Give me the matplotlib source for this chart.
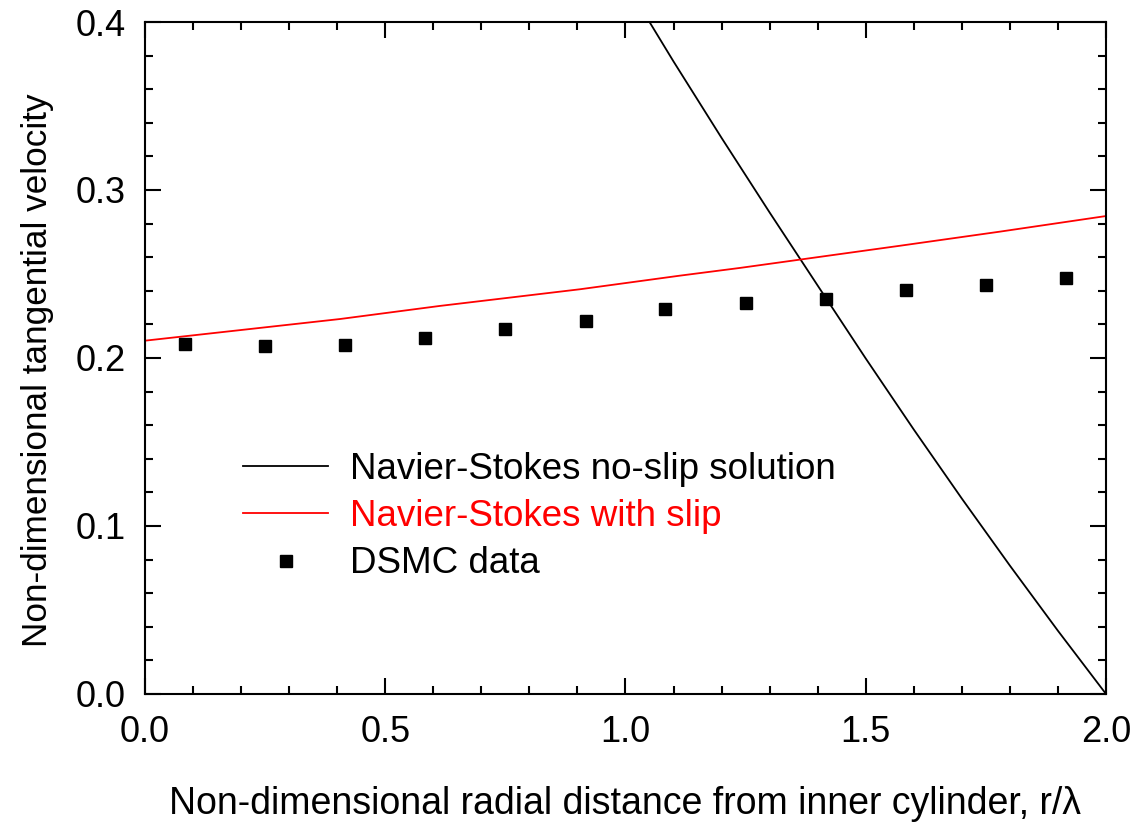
"""Tangential velocity profile: Navier-Stokes vs DSMC."""

import numpy as np
import matplotlib
matplotlib.use('Agg')
import matplotlib.pyplot as plt
from matplotlib.ticker import MultipleLocator, FormatStrFormatter

plt.rcParams['font.family'] = ['Liberation Sans', 'DejaVu Sans']

# DSMC data
dsmc_r = [0.083, 0.25, 0.417, 0.583, 0.75, 0.917, 1.083, 1.25, 1.417, 1.583, 1.75, 1.917]
dsmc_v = [0.2083, 0.2071, 0.2080, 0.2118, 0.2173, 0.2220, 0.2290, 0.2327, 0.2350, 0.2405, 0.2435, 0.2476]

# Navier-Stokes no-slip solution
noslip_r = [1.05, 1.1, 1.2, 1.3, 1.4, 1.5, 1.6, 1.7, 1.8, 1.9, 2.0]
noslip_v = [0.400, 0.3765, 0.3310, 0.2866, 0.2431, 0.1997, 0.1574, 0.1163, 0.0764, 0.0376, 0.0]

# Navier-Stokes with slip
slip_r = [0.0, 0.406, 0.614, 0.905, 1.113, 1.238, 1.571, 1.779, 2.0]
slip_v = [0.2103, 0.2232, 0.2310, 0.2409, 0.2490, 0.2536, 0.2668, 0.2752, 0.2845]

fig = plt.figure(figsize=(11.36, 8.24), dpi=100)
ax = fig.add_axes([0.1276, 0.1578, 0.8460, 0.8155])

ax.plot(noslip_r, noslip_v, color='black', lw=1.3, label='Navier-Stokes no-slip solution')
ax.plot(slip_r, slip_v, color='red', lw=1.3, label='Navier-Stokes with slip')
ax.plot(dsmc_r, dsmc_v, 's', color='black', ms=8.5, label='DSMC data')

ax.set_xlim(0, 2.0)
ax.set_ylim(0, 0.4)
ax.xaxis.set_major_locator(MultipleLocator(0.5))
ax.xaxis.set_minor_locator(MultipleLocator(0.1))
ax.yaxis.set_major_locator(MultipleLocator(0.1))
ax.yaxis.set_minor_locator(MultipleLocator(0.02))
ax.xaxis.set_major_formatter(FormatStrFormatter('%.1f'))
ax.yaxis.set_major_formatter(FormatStrFormatter('%.1f'))

ax.tick_params(which='both', direction='in', top=True, right=True, width=1.5,
               labelsize=26)
ax.tick_params(which='major', length=11.5)
ax.tick_params(which='minor', length=5.8)
ax.tick_params(axis='x', which='major', pad=15)
ax.tick_params(axis='y', which='major', pad=14)
for s in ax.spines.values():
    s.set_linewidth(1.5)

ax.set_xlabel('Non-dimensional radial distance from inner cylinder, r/λ', fontsize=27, labelpad=26)
ax.set_ylabel('Non-dimensional tangential velocity', fontsize=25.3)
ax.yaxis.set_label_coords(-0.0947, 0.482)

leg = ax.legend(loc='center left', bbox_to_anchor=(0.068, 0.2636), frameon=False,
                fontsize=26.5, handlelength=2.3, handletextpad=0.6, labelspacing=0.33)
for txt, line in zip(leg.get_texts(), leg.get_lines()):
    txt.set_color(line.get_color())

fig.savefig('out.png', dpi=100)
